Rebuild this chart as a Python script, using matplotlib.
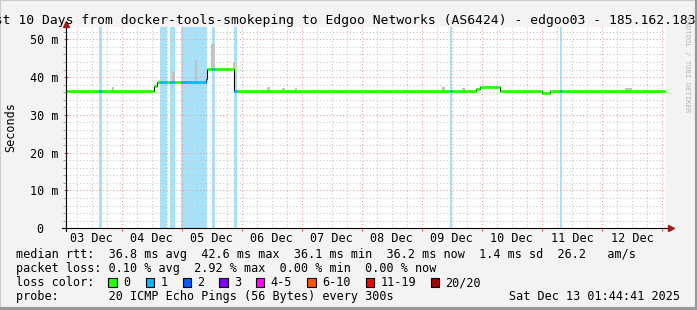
import matplotlib
matplotlib.use('Agg')
import matplotlib.pyplot as plt
from matplotlib.patches import Rectangle
from matplotlib.lines import Line2D

plt.rcParams['font.family'] = 'DejaVu Sans Mono'

W, H = 697, 310

# time axis: hours since 03 Dec 00:00, window is the last 10 days
t_end = 241 + 44 / 60 + 41 / 3600
t_start = t_end - 240

# median rtt (ms) in steps, with number of lost pings out of 20
seg_start = [t_start, 15.0, 16.1, 37.0, 38.1, 39.3, 42.0, 43.3, 45.3, 47.6, 57.6, 58.0, 60.0,
             61.3, 69.0, 70.2, 155.3, 156.2, 165.7, 167.1, 175.1, 192.0, 195.3, 199.2, 200.1]
seg_end = seg_start[1:] + [t_end]
seg_rtt = [36.2, 36.2, 36.2, 37.6, 38.6, 38.6, 38.6, 38.6, 38.6, 38.6, 39.6, 42.1, 42.1,
           42.1, 36.2, 36.2, 36.2, 36.2, 36.8, 37.4, 36.2, 35.9, 36.2, 36.2, 36.2]
seg_loss = [0, 1, 0, 0, 0, 1, 0, 1, 0, 1, 1, 0, 1,
            0, 1, 0, 1, 0, 0, 0, 0, 0, 0, 1, 0]

# smoke (spread of the pings above the median)
smoke_start = [20.0, 44.0, 53.3, 59.7, 68.6, 82.0, 88.0, 93.3, 152.0, 160.0, 225.3]
smoke_end = [21.1, 45.3, 54.3, 61.3, 69.3, 83.3, 89.3, 94.0, 153.3, 161.3, 228.0]
smoke_low = [36.2, 38.6, 38.6, 42.1, 42.1, 36.2, 36.2, 36.2, 36.2, 36.2, 36.2]
smoke_high = [37.4, 41.3, 44.6, 48.7, 44.0, 37.4, 37.0, 37.0, 37.4, 37.0, 37.0]

loss_names = ['0', '1', '2', '3', '4-5', '6-10', '11-19', '20/20']
loss_colors = ['#26ff00', '#00b8ff', '#0059ff', '#7e00ff', '#ff00ff', '#ff5500', '#ff0000', '#a10000']

day_labels = ['03 Dec', '04 Dec', '05 Dec', '06 Dec', '07 Dec',
              '08 Dec', '09 Dec', '10 Dec', '11 Dec', '12 Dec']
y_ticks = [0, 10, 20, 30, 40, 50]
y_labels = ['0  ', '10 m', '20 m', '30 m', '40 m', '50 m']


def fx(px):
    return px / W


def fy(py):
    return 1 - py / H


fig = plt.figure(figsize=(W / 100, H / 100), dpi=100, facecolor='#f3f3f3')
ax = fig.add_axes([fx(66), fy(228.3), (666.3 - 66) / W, (228.3 - 26.8) / H])
ax.set_facecolor('white')
ax.set_xlim(t_start, t_end)
ax.set_ylim(0, 53.3)
for s in ax.spines.values():
    s.set_visible(False)

# grid
grid_minor = dict(color='#c8c8c8', lw=0.8, ls=(0, (1, 2)), zorder=0.5)
grid_major = dict(color='#e8a0a0', lw=0.8, ls=(0, (1, 2)), zorder=0.6)
for k in range(0, 41):
    h = 6 * k
    if h <= t_start or h >= t_end:
        continue
    ax.axvline(h, **(grid_major if h % 24 == 0 else grid_minor))
for v in range(2, 54, 2):
    ax.axhline(v, **(grid_major if v % 10 == 0 else grid_minor))

# loss background
for a, b, l in zip(seg_start, seg_end, seg_loss):
    if l > 0:
        ax.axvspan(a, b, color='#a8e2fa', lw=0, zorder=0.2)

# smoke
ax.bar(smoke_start, [h - l for h, l in zip(smoke_high, smoke_low)], bottom=smoke_low,
       width=[e - s for s, e in zip(smoke_start, smoke_end)], align='edge',
       color='#c2c2c2', lw=0, zorder=1.5)

# median line: thin black steps, loss-colored thick segments
ax.step(seg_start + [t_end], seg_rtt + [seg_rtt[-1]], where='post', color='black', lw=0.8, zorder=2)
ax.hlines(seg_rtt, seg_start, seg_end, colors=[loss_colors[l] for l in seg_loss],
          lw=2.0, zorder=3, capstyle='butt')

# ticks
ax.set_xticks([12 + 24 * k for k in range(10)])
ax.set_xticklabels(day_labels, fontsize=8.5)
ax.set_xticks([24 * k for k in range(1, 11)], minor=True)
ax.tick_params(axis='x', which='major', length=0, pad=3)
ax.tick_params(axis='x', which='minor', length=2.5, color='#d04040', direction='out')
ax.set_yticks(y_ticks)
ax.set_yticklabels(y_labels, fontsize=8.5)
ax.set_yticks(list(range(2, 54, 2)), minor=True)
ax.tick_params(axis='y', which='major', length=3, color='#d04040', direction='inout', pad=4)
ax.tick_params(axis='y', which='minor', length=2, color='#909090', direction='out')

# axis lines with arrows
ax.plot([0, 0], [-0.015, 1.0], transform=ax.transAxes, clip_on=False, color='black', lw=0.8, zorder=4)
ax.plot([-0.007, 1.004], [0, 0], transform=ax.transAxes, clip_on=False, color='black', lw=0.8, zorder=4)
ax.plot([0], [1.015], marker='^', ms=5, color='#a01818', transform=ax.transAxes, clip_on=False, zorder=5)
ax.plot([1.008], [0], marker='>', ms=5, color='#a01818', transform=ax.transAxes, clip_on=False, zorder=5)

# labels and title
fig.text(fx(11), fy(127.5), 'Seconds', rotation=90, ha='center', va='center', fontsize=8.5)
fig.text(fx(-20.7), fy(24), 'Last 10 Days from docker-tools-smokeping to Edgoo Networks (AS6424)'
         ' - edgoo03 - 185.162.183', ha='left', va='baseline', fontsize=9.4)
fig.text(fx(686.5), fy(16), 'RRDTOOL / TOBI OETIKER', rotation=270, ha='center', va='top',
         fontsize=5.2, color='#b4b4b4')

fig.text(fx(16), fy(258.3), 'median rtt:  36.8 ms avg  42.6 ms max  36.1 ms min  36.2 ms now'
         '  1.4 ms sd  26.2   am/s', ha='left', va='baseline', fontsize=8.5)
fig.text(fx(16), fy(272), 'packet loss: 0.10 % avg  2.92 % max  0.00 % min  0.00 % now',
         ha='left', va='baseline', fontsize=8.5)
fig.text(fx(16), fy(286), 'loss color:', ha='left', va='baseline', fontsize=8.5)
box_x = [108.3, 145.7, 182.7, 219.3, 256.0, 307.3, 366.0, 430.7]
for bx, name, col in zip(box_x, loss_names, loss_colors):
    fig.add_artist(Rectangle((fx(bx), fy(286.5)), 8.4 / W, 8.4 / H, transform=fig.transFigure,
                             facecolor=col, edgecolor='black', lw=0.8))
    fig.text(fx(bx + 14.7), fy(286), name, ha='left', va='baseline', fontsize=8.5)
fig.text(fx(16), fy(300), 'probe:       20 ICMP Echo Pings (56 Bytes) every 300s',
         ha='left', va='baseline', fontsize=8.5)
fig.text(fx(680), fy(300), 'Sat Dec 13 01:44:41 2025', ha='right', va='baseline', fontsize=8.5)

# 3d frame
fig.add_artist(Line2D([0, 0, 1], [0, 1, 1], transform=fig.transFigure, color='#cbcbcb', lw=1.5))
fig.add_artist(Line2D([0, 1, 1], [0.002, 0.002, 1], transform=fig.transFigure, color='#999999', lw=3))

fig.savefig('out.png', dpi=100, facecolor=fig.get_facecolor())
